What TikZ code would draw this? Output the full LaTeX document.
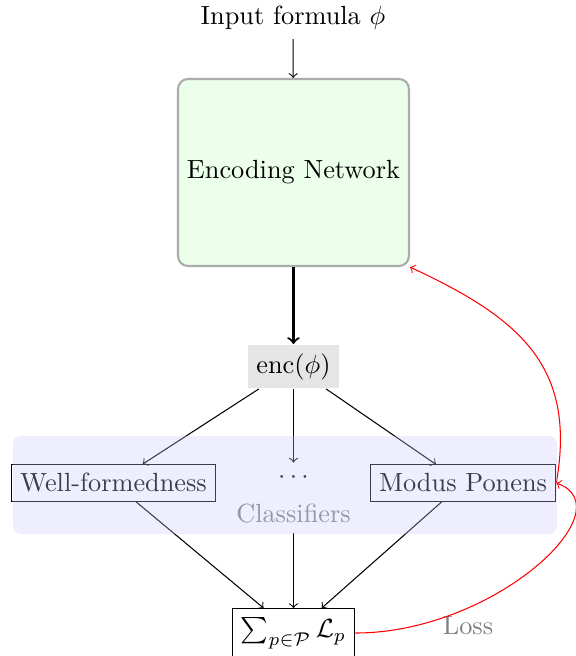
\documentclass[tikz,border=0pt]{standalone}
\begin{document}
\begin{tikzpicture}[x=0.3802pt, y=-0.3802pt,
  box/.style={draw, inner sep=3.33pt},
  plain/.style={inner sep=3.33pt},
  encbox/.style={draw=black!33, line width=0.8pt, fill=green!8, rounded corners=3.8pt,
    minimum width=87.8pt, minimum height=71.1pt, inner sep=3.33pt},
  graytext/.style={inner sep=3.33pt, text=gray},
  conn/.style={->},
  loss/.style={->, red}]
\useasboundingbox (0,0) rectangle (575,656);
\node[plain] (input) at (293,18) {Input formula $\phi$};
\node[encbox] (net) at (293.5,172.5) {Encoding Network};
\node[plain, fill=gray!20] (enc) at (293.5,366.5) {$\mathrm{enc}(\phi)$};
\node[box] (wf) at (113.5,483) {Well-formedness};
\node[box] (mp) at (463,483) {Modus Ponens};
\node[plain, anchor=north] (dots) at (293.5,462.5) {$\cdots$};
\node[graytext] (cls) at (293.5,514) {Classifiers};
\node[box] (sum) at (293.5,633) {$\sum_{p\in\mathcal{P}} \mathcal{L}_p$};
\node[graytext] (losslbl) at (468,626) {Loss};
\draw[conn] (input) -- (net);
\draw[conn, thick] (net) -- (enc);
\draw[conn] (enc) -- (wf);
\draw[conn] (enc) -- (dots);
\draw[conn] (enc) -- (mp);
\draw[conn] (wf) -- (sum);
\draw[conn] (cls) -- (sum);
\draw[conn] (mp) -- (sum);
\draw[loss] (sum.east) to[out=0, in=-20, out distance=53pt, in distance=28.5pt] (mp.east);
\draw[loss] (mp.east) to[out=80, in=-25, out distance=45.5pt, in distance=45.5pt] (net.south east);
\fill[blue!22, opacity=0.3, rounded corners=3pt] (13,436) rectangle (557,534);
\end{tikzpicture}
\end{document}
